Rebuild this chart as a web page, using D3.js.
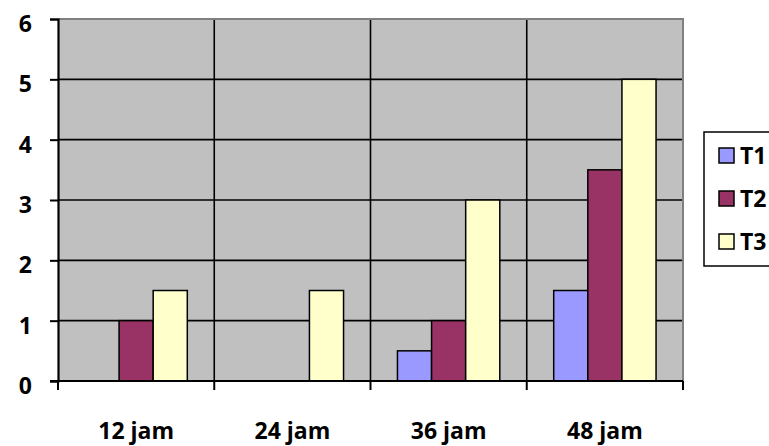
<!DOCTYPE html>
<html>
<head>
<meta charset="utf-8">
<script src="https://cdn.jsdelivr.net/npm/d3@7"></script>
<style>
  html, body { margin: 0; padding: 0; background: #fff; }
  svg { display: block; }
  text { font-family: "Open Sans", "Noto Sans", sans-serif; font-weight: bold; fill: #000; }
</style>
</head>
<body>
<svg id="chart" width="769" height="446"></svg>
<script>
// Observation times and the three treatments
const categories = ["12 jam", "24 jam", "36 jam", "48 jam"];
const seriesNames = ["T1", "T2", "T3"];
const t1Values = [0, 0, 0.5, 1.5];
const t2Values = [1, 0, 1, 3.5];
const t3Values = [1.5, 1.5, 3, 5];
const yTicks = [0, 1, 2, 3, 4, 5, 6];

const seriesValues = { T1: t1Values, T2: t2Values, T3: t3Values };
const colors = { T1: "#9999FF", T2: "#993366", T3: "#FFFFCC" };

const svg = d3.select("#chart");
const plot = { left: 58, right: 683, top: 19, bottom: 381 };

const x0 = d3.scaleBand().domain(categories).range([plot.left, plot.right]).paddingInner(0).paddingOuter(0);
const x1 = d3.scaleBand().domain(seriesNames).range([0, x0.bandwidth()]).paddingInner(0).paddingOuter(0.79);
const y = d3.scaleLinear().domain([0, 6]).range([plot.bottom, plot.top]);

// plot background
svg.append("rect")
  .attr("x", plot.left).attr("y", plot.top)
  .attr("width", plot.right - plot.left).attr("height", plot.bottom - plot.top)
  .attr("fill", "#C0C0C0");

// horizontal gridlines
svg.append("g").selectAll("line")
  .data(yTicks.filter(d => d > 0 && d < 6))
  .join("line")
  .attr("x1", plot.left).attr("x2", plot.right)
  .attr("y1", d => y(d)).attr("y2", d => y(d))
  .attr("stroke", "#000").attr("stroke-width", 1.6);

// vertical gridlines at category boundaries
const boundaries = categories.slice(1).map(c => x0(c));
svg.append("g").selectAll("line")
  .data(boundaries)
  .join("line")
  .attr("x1", d => d).attr("x2", d => d)
  .attr("y1", plot.top).attr("y2", plot.bottom)
  .attr("stroke", "#000").attr("stroke-width", 1.6);

// top and right frame of the plot area
svg.append("path")
  .attr("d", `M${plot.left},${plot.top} H${plot.right} V${plot.bottom}`)
  .attr("fill", "none").attr("stroke", "#808080").attr("stroke-width", 2);

// bars
const groups = svg.append("g").selectAll("g")
  .data(categories)
  .join("g")
  .attr("transform", d => `translate(${x0(d)},0)`);

groups.selectAll("rect")
  .data((c, i) => seriesNames.map(s => ({ s, v: seriesValues[s][i] })))
  .join("rect")
  .filter(d => d.v > 0)
  .attr("x", d => x1(d.s))
  .attr("y", d => y(d.v))
  .attr("width", x1.bandwidth())
  .attr("height", d => y(0) - y(d.v))
  .attr("fill", d => colors[d.s])
  .attr("stroke", "#000").attr("stroke-width", 1.5);

// y axis
const yAxis = d3.axisLeft(y).tickValues(yTicks).tickSize(8).tickPadding(18).tickFormat(d3.format("d"));
const gy = svg.append("g").attr("transform", `translate(${plot.left},0)`).call(yAxis);
gy.select(".domain").attr("stroke", "#000").attr("stroke-width", 2.2);
gy.selectAll(".tick line").attr("stroke", "#000").attr("stroke-width", 2);
gy.selectAll(".tick text")
  .attr("font-size", 23).attr("font-family", "Open Sans").attr("font-weight", "bold")
  .attr("dy", "0.55em").attr("fill", "#000");

// x axis with boundary ticks
const gx = svg.append("g");
gx.append("line")
  .attr("x1", plot.left - 8).attr("x2", plot.right)
  .attr("y1", plot.bottom).attr("y2", plot.bottom)
  .attr("stroke", "#000").attr("stroke-width", 2.2);
gx.selectAll("line.tick")
  .data([plot.left, ...boundaries, plot.right])
  .join("line").attr("class", "tick")
  .attr("x1", d => d).attr("x2", d => d)
  .attr("y1", plot.bottom).attr("y2", plot.bottom + 9)
  .attr("stroke", "#000").attr("stroke-width", 2);
gx.selectAll("text")
  .data(categories)
  .join("text")
  .attr("x", d => x0(d) + x0.bandwidth() / 2)
  .attr("y", 439)
  .attr("text-anchor", "middle")
  .attr("font-size", 23)
  .text(d => d);

// legend
const legend = svg.append("g");
legend.append("rect")
  .attr("x", 704).attr("y", 132).attr("width", 80).attr("height", 134)
  .attr("fill", "#fff").attr("stroke", "#000").attr("stroke-width", 1.5);
const items = legend.selectAll("g.item")
  .data(seriesNames)
  .join("g").attr("class", "item")
  .attr("transform", (d, i) => `translate(719,${148 + i * 43})`);
items.append("rect")
  .attr("width", 15).attr("height", 15)
  .attr("fill", d => colors[d]).attr("stroke", "#000").attr("stroke-width", 1.5);
items.append("text")
  .attr("x", 21).attr("y", 16)
  .attr("font-size", 23)
  .text(d => d);
</script>
</body>
</html>
